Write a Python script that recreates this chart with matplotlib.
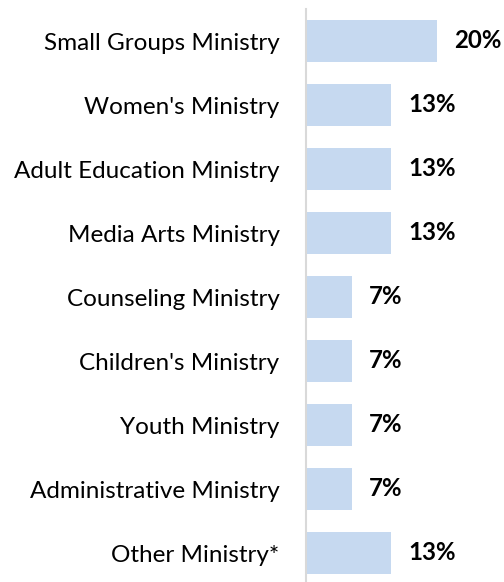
import matplotlib
matplotlib.use("Agg")
import matplotlib.pyplot as plt

categories = [
    "Small Groups Ministry",
    "Women's Ministry",
    "Adult Education Ministry",
    "Media Arts Ministry",
    "Counseling Ministry",
    "Children's Ministry",
    "Youth Ministry",
    "Administrative Ministry",
    "Other Ministry*",
]
values = [20, 13, 13, 13, 7, 7, 7, 7, 13]
value_labels = ["20%", "13%", "13%", "13%", "7%", "7%", "7%", "7%", "13%"]

plt.rcParams["font.family"] = ["Lato", "DejaVu Sans"]

W, H = 504, 582
fig = plt.figure(figsize=(W / 100, H / 100), dpi=100)
ax = fig.add_axes([306 / W, 1 - 585 / H, 196 / W, 576 / H])

ypos = list(range(len(categories)))
ax.barh(ypos, values, height=0.66, color="#C6D9F0", edgecolor="none")

for y, v, lab in zip(ypos, values, value_labels):
    ax.annotate(lab, (v, y), xytext=(12.5, 0), textcoords="offset points",
                va="center", ha="left", fontsize=17.3, fontweight="bold",
                color="black")

ax.set_xlim(0, 30)
ax.set_ylim(len(categories) - 0.5, -0.5)
ax.set_yticks(ypos)
ax.set_yticklabels(categories, fontsize=17.5)
ax.tick_params(axis="y", length=0, pad=19)
ax.set_xticks([])
for s in ["top", "right", "bottom"]:
    ax.spines[s].set_visible(False)
ax.spines["left"].set_color("#D9D9D9")
ax.spines["left"].set_linewidth(1.5)

fig.savefig("out.png", dpi=100)
